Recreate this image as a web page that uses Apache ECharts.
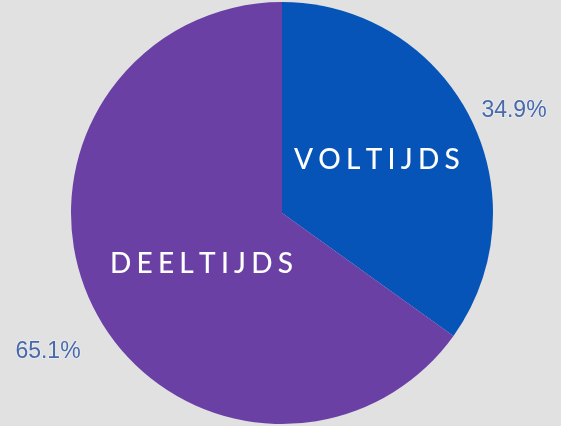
<!DOCTYPE html>
<html><head><meta charset="utf-8">
<script src="https://cdn.jsdelivr.net/npm/echarts@6/dist/echarts.min.js"></script>
<style>html,body{margin:0;padding:0;background:#e2e1e2;}#c{width:561px;height:426px;}</style>
</head><body><div id="c"></div>
<script>
var categories = ['VOLTIJDS', 'DEELTIJDS'];
var values = [34.9, 65.1];
var colors = ['#0654b8', '#6a40a5'];
var sp = '\u2009\u200A';
function spaced(s){ return s.split('').join(sp); }
var chart = echarts.init(document.getElementById('c'));
chart.setOption({
  backgroundColor: '#e2e1e2',
  animation: false,
  series: [{
    type: 'pie',
    center: [282, 213],
    radius: [0, 211],
    startAngle: 90,
    clockwise: true,
    data: categories.map(function(c,i){ return {name:c, value:values[i], itemStyle:{color:colors[i]}}; }),
    label: {
      show: true, position: 'outside', overflow: 'none',
      formatter: function(p){ return p.value.toFixed(1) + '%'; },
      color: '#4a6aa6', fontSize: 23, fontFamily: 'Liberation Sans',
      textBorderColor: 'rgba(235,240,250,0.8)', textBorderWidth: 1.5
    },
    labelLine: { show: false },
    labelLayout: function(p){
      return p.dataIndex === 0 ? {x: 514, y: 111, align: 'center', verticalAlign: 'middle'}
                               : {x: 48, y: 352, align: 'center', verticalAlign: 'middle'};
    },
    emphasis: { disabled: true }
  }],
  graphic: [
    { type: 'text', z: 100, left: 294, top: 146, style: { text: spaced(categories[0]), fill: '#fff', font: '500 28px Lato' } },
    { type: 'text', z: 100, left: 110, top: 250, style: { text: spaced(categories[1]), fill: '#fff', font: '500 28px Lato' } }
  ]
});
</script></body></html>
